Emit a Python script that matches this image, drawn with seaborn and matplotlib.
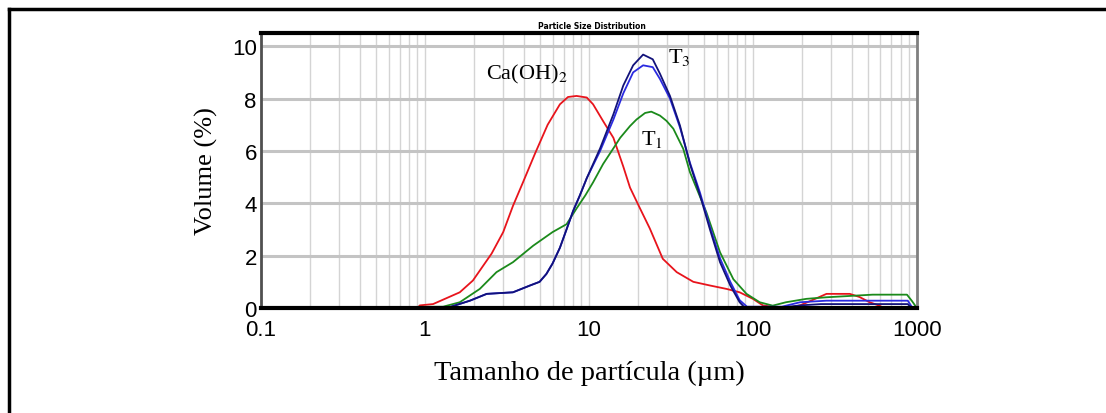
import matplotlib
matplotlib.use("Agg")
import matplotlib.pyplot as plt
import matplotlib.ticker as mticker
from matplotlib.lines import Line2D
import seaborn as sns

plt.rcParams["mathtext.fontset"] = "stix"

# particle size (um) and volume (%)
caoh2_x = [0.1, 0.9, 0.93, 1.12, 1.63, 1.96, 2.55, 3.0, 3.44, 3.96, 4.69, 5.6, 6.65, 7.45, 8.4,
           9.7, 10.6, 12.2, 14.1, 16.2, 17.8, 20.5, 23.5, 28.2, 34.3, 43.3, 54.7, 69, 83,
           100, 115, 138, 170, 194, 230, 281, 390, 447, 515, 590, 630, 1000]
caoh2_y = [0, 0, 0.1, 0.15, 0.6, 1.05, 2.08, 2.9, 3.9, 4.8, 5.9, 7.0, 7.78, 8.06, 8.1,
           8.04, 7.78, 7.14, 6.5, 5.4, 4.6, 3.8, 3.04, 1.88, 1.37, 1.0, 0.86, 0.73, 0.6,
           0.35, 0.1, 0.03, 0.03, 0.1, 0.3, 0.54, 0.54, 0.42, 0.22, 0.09, 0, 0]

t3a_x = [0.1, 1.36, 1.88, 2.38, 3.44, 4.37, 5.0, 5.5, 6.0, 6.65, 7.3, 8.0, 8.8, 9.7, 11.7,
         14.1, 16.2, 18.6, 21.4, 24.5, 27.1, 31.2, 35.9, 41.3, 47.6, 54.7, 63, 72.8, 83, 89,
         150, 194, 260, 880, 920, 1000]
t3a_y = [0, 0, 0.28, 0.54, 0.6, 0.86, 1.0, 1.3, 1.7, 2.3, 3.0, 3.7, 4.3, 4.96, 6.1,
         7.4, 8.5, 9.27, 9.68, 9.5, 8.95, 8.1, 6.97, 5.5, 4.3, 3.0, 1.75, 0.86, 0.22, 0.02,
         0.02, 0.1, 0.15, 0.15, 0.02, 0]

t3b_x = [0.1, 1.36, 1.88, 2.38, 3.44, 4.37, 5.0, 5.5, 6.0, 6.65, 7.3, 8.0, 8.8, 9.7, 11.7,
         14.1, 16.2, 18.6, 21.4, 24.5, 27.1, 31.2, 35.9, 41.3, 47.6, 54.7, 63, 72.8, 83, 92,
         150, 194, 281, 880, 930, 1000]
t3b_y = [0, 0, 0.28, 0.54, 0.6, 0.86, 1.0, 1.3, 1.7, 2.3, 3.0, 3.7, 4.3, 4.96, 6.0,
         7.2, 8.2, 9.0, 9.27, 9.2, 8.75, 8.0, 6.9, 5.55, 4.4, 3.1, 1.9, 1.0, 0.3, 0.05,
         0.05, 0.22, 0.28, 0.28, 0.05, 0]

t1_x = [0.1, 1.29, 1.63, 2.16, 2.73, 3.44, 4.57, 6.0, 7.3, 8.4, 9.5, 10.6, 12.2, 14.1,
        15.5, 17.8, 19.5, 22.0, 24.0, 27.1, 29.7, 32.7, 37.6, 41.3, 52, 63, 76, 91.4, 110,
        132, 159, 212, 281, 537, 870, 930, 1000]
t1_y = [0, 0.05, 0.22, 0.73, 1.37, 1.75, 2.38, 2.9, 3.2, 3.8, 4.3, 4.8, 5.5, 6.1,
        6.5, 6.95, 7.2, 7.45, 7.5, 7.35, 7.15, 6.85, 6.08, 5.19, 3.66, 2.13, 1.1, 0.54, 0.22,
        0.09, 0.22, 0.35, 0.41, 0.51, 0.51, 0.28, 0]

x_ticks = [0.1, 1, 10, 100, 1000]
x_tick_labels = ["0.1", "1", "10", "100", "1000"]
y_ticks = [0, 2, 4, 6, 8, 10]

fig = plt.figure(figsize=(11.06, 4.14), dpi=100)
ax = fig.add_axes([0.236, 0.2536, 0.593, 0.664])

series = [
    (caoh2_x, caoh2_y, "#e8141c"),
    (t1_x, t1_y, "#1b8a1b"),
    (t3b_x, t3b_y, "#2a2ae0"),
    (t3a_x, t3a_y, "#12127a"),
]
for xs, ys, col in series:
    sns.lineplot(x=xs, y=ys, color=col, linewidth=1.3, estimator=None, sort=False, ax=ax)

ax.set_xscale("log")
ax.set_xlim(0.1, 1000)
ax.set_ylim(0, 10.5)
ax.set_xticks(x_ticks)
ax.set_xticklabels(x_tick_labels)
ax.set_yticks(y_ticks)
ax.xaxis.set_minor_locator(mticker.LogLocator(base=10, subs=range(2, 10)))
ax.xaxis.set_minor_formatter(mticker.NullFormatter())
ax.tick_params(which="both", length=0)
ax.tick_params(axis="x", pad=8)
ax.tick_params(axis="y", pad=3)
for lab in ax.get_xticklabels() + ax.get_yticklabels():
    lab.set_family(["Liberation Sans", "DejaVu Sans"])
    lab.set_fontsize(16)

ax.grid(axis="y", which="major", color="#c4c4c4", linewidth=2.2)
ax.grid(axis="x", which="both", color="#d4d4d4", linewidth=1.0)
ax.set_axisbelow(True)

ax.spines["top"].set_linewidth(3)
ax.spines["top"].set_color("black")
ax.spines["bottom"].set_linewidth(3)
ax.spines["bottom"].set_color("black")
ax.spines["left"].set_linewidth(2)
ax.spines["left"].set_color("#505050")
ax.spines["right"].set_linewidth(2)
ax.spines["right"].set_color("#808080")

serif = ["Liberation Serif", "DejaVu Serif"]
ax.set_xlabel("Tamanho de partícula (µm)", family=serif, fontsize=20.5, labelpad=14)
ax.set_ylabel("Volume (%)", family=serif, fontsize=19, labelpad=10)

ax.text(4.19, 8.95, r"Ca(OH)$_2$", family=serif, fontsize=16, ha="center", va="center")
ax.text(30.3, 9.6, r"T$_3$", family=serif, fontsize=16, ha="left", va="center")
ax.text(20.8, 6.46, r"T$_1$", family=serif, fontsize=16, ha="left", va="center")

fig.text(0.535, 0.937, "Particle Size Distribution", fontsize=5.5, fontweight="bold",
         ha="center", va="center")

# outer frame edges
fig.add_artist(Line2D([9 / 1106, 1.0], [1 - 10 / 414, 1 - 10 / 414], color="black", linewidth=2.5))
fig.add_artist(Line2D([9 / 1106, 9 / 1106], [0.0, 1 - 10 / 414], color="black", linewidth=2.5))

fig.savefig("out.png", dpi=100)
